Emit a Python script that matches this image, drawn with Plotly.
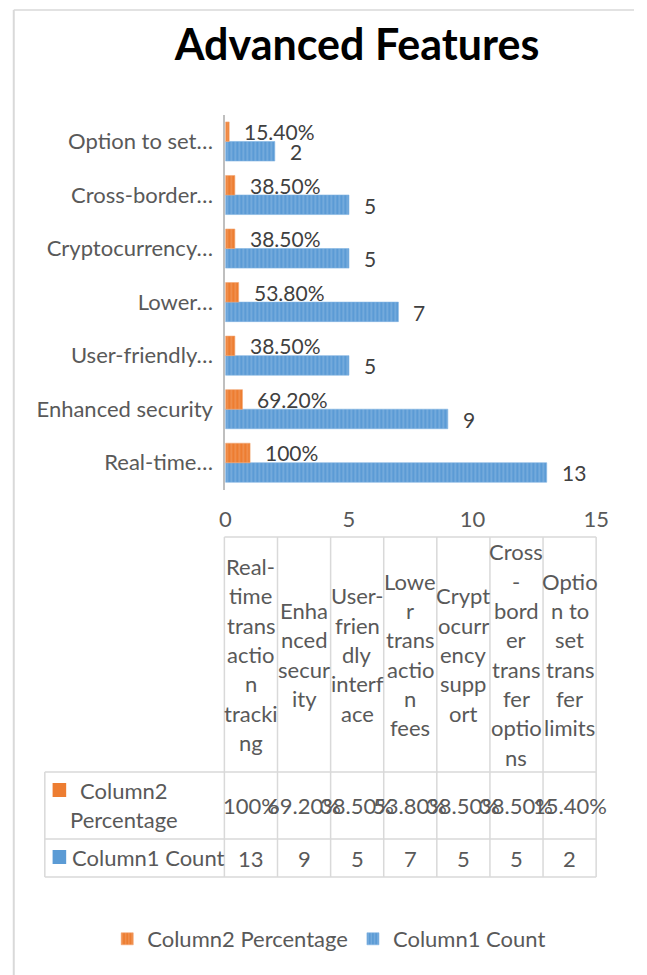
import plotly.graph_objects as go

# ---------------- data ----------------
categories = [
    "Real-time transaction tracking",
    "Enhanced security",
    "User-friendly interface",
    "Lower transaction fees",
    "Cryptocurrency support",
    "Cross-border transfer options",
    "Option to set transfer limits",
]
axis_labels = [
    "Real-time…",
    "Enhanced security",
    "User-friendly…",
    "Lower…",
    "Cryptocurrency…",
    "Cross-border…",
    "Option to set…",
]
header_wrapped = [
    "Real-\ntime\ntrans\nactio\nn\ntracki\nng",
    "Enha\nnced\nsecur\nity",
    "User-\nfrien\ndly\ninterf\nace",
    "Lowe\nr\ntrans\nactio\nn\nfees",
    "Crypt\nocurr\nency\nsupp\nort",
    "Cross\n-\nbord\ner\ntrans\nfer\noptio\nns",
    "Optio\nn to\nset\ntrans\nfer\nlimits",
]
count_values = [13, 9, 5, 7, 5, 5, 2]
percentage_values = [100, 69.2, 38.5, 53.8, 38.5, 38.5, 15.4]
count_name = "Column1 Count"
pct_name = "Column2 Percentage"
title_text = "Advanced Features"
x_ticks = [0, 5, 10, 15]


def pct_label(v):
    return f"{v:.0f}%" if float(v).is_integer() else f"{v:.2f}%"


pct_labels = [pct_label(v) for v in percentage_values]
pct_fraction = [v / 100 for v in percentage_values]

# ---------------- geometry (pixels) ----------------
W, H = 647, 975
PLOT_L, PLOT_R = 226, 608
PLOT_T, PLOT_B = 114.7, 489.5
FONT = "Lato"
FS = 22
GREY = "#595959"
LINE = "#d9d9d9"
ORANGE = "#ED7D31"
BLUE = "#5B9BD5"


def xp(px):
    return px / W


def yp(py):
    return 1 - py / H


fig = go.Figure()
fig.add_trace(go.Bar(
    y=categories, x=count_values, orientation="h", name=count_name,
    marker=dict(color=BLUE, line=dict(width=0.6, color="#7fb2e0"),
                pattern=dict(shape="|", fgcolor="#a9cbeb", bgcolor=BLUE,
                             size=4, solidity=0.3)),
    hoverinfo="skip",
))
fig.add_trace(go.Bar(
    y=categories, x=pct_fraction, orientation="h", name=pct_name,
    marker=dict(color=ORANGE, line=dict(width=0.6, color="#f2a470"),
                pattern=dict(shape="|", fgcolor="#f6b48a", bgcolor=ORANGE,
                             size=4, solidity=0.3)),
    hoverinfo="skip",
))

annotations = []
lab_font = dict(family=FONT, size=21, color="#404040")
# data labels
for c, v in zip(categories, count_values):
    annotations.append(dict(x=v, y=c, xref="x", yref="y", text=str(v),
                            showarrow=False, xanchor="left", yanchor="middle",
                            xshift=13, yshift=-10, font=lab_font))
for c, v, lab in zip(categories, pct_fraction, pct_labels):
    annotations.append(dict(x=v, y=c, xref="x", yref="y", text=lab,
                            showarrow=False, xanchor="left", yanchor="middle",
                            xshift=13, yshift=10, font=lab_font))

# ---------------- data table ----------------
TBL_L, TBL_R = 225, 608
LEFT_L = 40
ROW_T, ROW_H1, ROW_H2, ROW_B = 537, 772, 839, 877
ncol = len(categories)
colw = (TBL_R - TBL_L) / ncol
LINE_STEP = 29.3

shapes = []


def hline(x0, x1, y):
    shapes.append(dict(type="line", xref="paper", yref="paper",
                       x0=xp(x0), x1=xp(x1), y0=yp(y), y1=yp(y),
                       line=dict(color=LINE, width=1.5)))


def vline(x, y0, y1):
    shapes.append(dict(type="line", xref="paper", yref="paper",
                       x0=xp(x), x1=xp(x), y0=yp(y0), y1=yp(y1),
                       line=dict(color=LINE, width=1.5)))


hline(TBL_L, TBL_R, ROW_T)
hline(LEFT_L, TBL_R, ROW_H1)
hline(LEFT_L, TBL_R, ROW_H2)
hline(LEFT_L, TBL_R, ROW_B)
vline(LEFT_L, ROW_H1, ROW_B)
for i in range(ncol + 1):
    vline(TBL_L + i * colw, ROW_T, ROW_B)

tfont = dict(family=FONT, size=FS, color=GREY)
hdr_mid = (ROW_T + ROW_H1) / 2
for i, lab in enumerate(header_wrapped):
    lines = lab.split("\n")
    n = len(lines)
    cx = TBL_L + (i + 0.5) * colw
    for k, ln in enumerate(lines):
        cy = hdr_mid + (k - (n - 1) / 2) * LINE_STEP
        annotations.append(dict(x=xp(cx), y=yp(cy), xref="paper", yref="paper",
                                text=ln, showarrow=False, xanchor="center",
                                yanchor="middle", font=tfont))
    annotations.append(dict(x=xp(cx), y=yp((ROW_H1 + ROW_H2) / 2), xref="paper",
                            yref="paper", text=pct_labels[i], showarrow=False,
                            xanchor="center", yanchor="middle", font=tfont))
    annotations.append(dict(x=xp(cx), y=yp((ROW_H2 + ROW_B) / 2), xref="paper",
                            yref="paper", text=str(count_values[i]), showarrow=False,
                            xanchor="center", yanchor="middle", font=tfont))

# row headers with legend keys
p_words = pct_name.split(" ")
annotations.append(dict(x=xp(122), y=yp(790), xref="paper", yref="paper",
                        text=p_words[0], showarrow=False, xanchor="center",
                        yanchor="middle", font=tfont))
annotations.append(dict(x=xp(122), y=yp(819), xref="paper", yref="paper",
                        text=p_words[1], showarrow=False, xanchor="center",
                        yanchor="middle", font=tfont))
annotations.append(dict(x=xp(66), y=yp(857), xref="paper", yref="paper",
                        text=count_name, showarrow=False, xanchor="left",
                        yanchor="middle", font=tfont))
shapes.append(dict(type="rect", xref="paper", yref="paper",
                   x0=xp(48), x1=xp(62), y0=yp(783), y1=yp(797),
                   fillcolor=ORANGE, line=dict(width=0)))
shapes.append(dict(type="rect", xref="paper", yref="paper",
                   x0=xp(48), x1=xp(62), y0=yp(850), y1=yp(864),
                   fillcolor=BLUE, line=dict(width=0)))

# chart-area border
shapes.append(dict(type="line", xref="paper", yref="paper",
                   x0=xp(8), x1=xp(W), y0=yp(10), y1=yp(10),
                   line=dict(color=LINE, width=1.5)))
shapes.append(dict(type="line", xref="paper", yref="paper",
                   x0=xp(8), x1=xp(8), y0=yp(10), y1=yp(H),
                   line=dict(color=LINE, width=2)))

fig.update_layout(
    width=W, height=H,
    margin=dict(l=0, r=0, t=0, b=0),
    paper_bgcolor="white", plot_bgcolor="white",
    barmode="group", bargap=0.27, bargroupgap=0,
    title=dict(text=f"<b>{title_text}</b>", x=xp(357), xanchor="center",
               y=yp(45), yanchor="middle",
               font=dict(family=FONT, size=43, color="black")),
    xaxis=dict(domain=[xp(PLOT_L), xp(PLOT_R)], range=[0, 15],
               tickvals=x_ticks, showgrid=False, zeroline=False,
               showline=False, ticks="", ticklabelstandoff=14,
               tickfont=dict(family=FONT, size=FS, color=GREY)),
    yaxis=dict(domain=[yp(PLOT_B), yp(PLOT_T)], type="category",
               tickvals=categories, ticktext=axis_labels,
               showgrid=False, zeroline=False, showline=True,
               linecolor="#bfbfbf", linewidth=2, ticks="",
               ticklabelstandoff=6,
               tickfont=dict(family=FONT, size=FS, color=GREY)),
    showlegend=True,
    legend=dict(orientation="h", traceorder="reversed",
                x=xp(333), xanchor="center", y=yp(939), yanchor="middle",
                font=dict(family=FONT, size=FS, color=GREY),
                itemwidth=30),
    annotations=annotations,
    shapes=shapes,
)

fig.write_html(
    "out.html",
    config={"displayModeBar": False},
    post_script="document.body.style.margin='0';document.body.style.overflow='hidden';",
)
